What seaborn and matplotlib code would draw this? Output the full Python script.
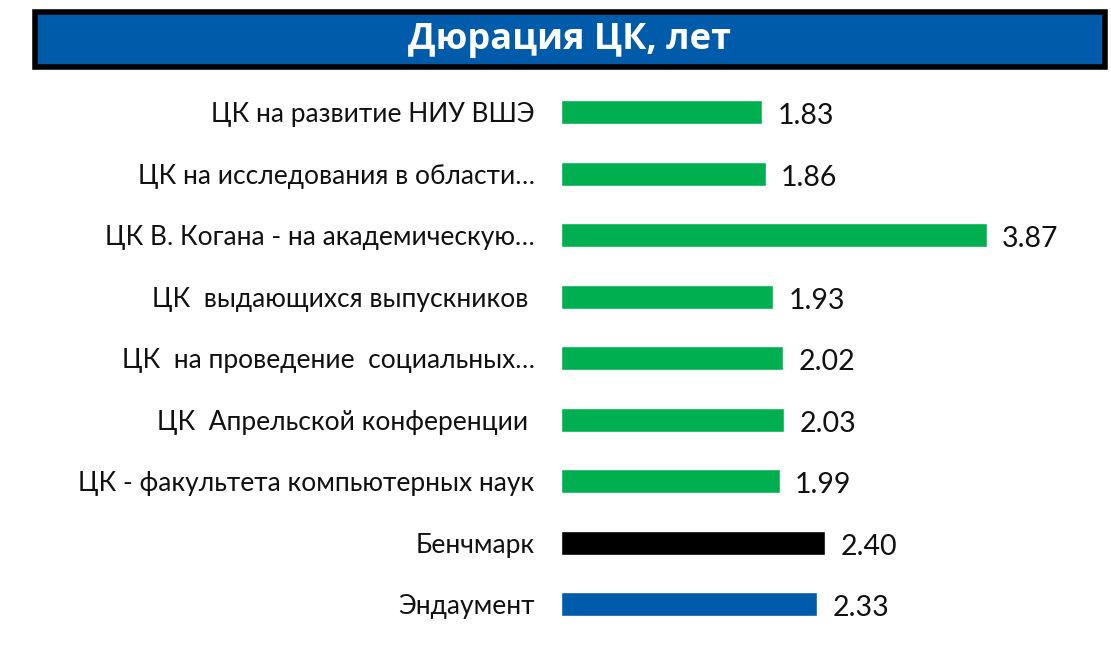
import pandas as pd
import matplotlib.pyplot as plt
import seaborn as sns
from matplotlib.patches import Rectangle

# data
labels = [
    'ЦК на развитие НИУ ВШЭ',
    'ЦК на исследования в области…',
    'ЦК В. Когана - на академическую…',
    'ЦК  выдающихся выпускников ',
    'ЦК  на проведение  социальных…',
    'ЦК  Апрельской конференции ',
    'ЦК - факультета компьютерных наук',
    'Бенчмарк',
    'Эндаумент',
]
values = [1.83, 1.86, 3.87, 1.93, 2.02, 2.03, 1.99, 2.40, 2.33]
colors = ['#00B050'] * 7 + ['#000000', '#005BAA']
title = 'Дюрация ЦК, лет'

df = pd.DataFrame({'label': labels, 'value': values})

sns.set_style('white')
plt.rcParams['font.family'] = ['Lato', 'DejaVu Sans']

fig = plt.figure(figsize=(11.11, 6.5), dpi=100)
ax = fig.add_axes([0.505, 0.023, 0.49, 0.852])

sns.barplot(data=df, y='label', x='value', hue='label', palette=colors,
            orient='h', width=0.39, saturation=1, legend=False, ax=ax)

# value labels, nudged a little below the bar centre like the original
for c in ax.containers:
    txts = ax.bar_label(c, fmt='%.2f', padding=11, fontsize=20.5, color='#111111')
    for t in txts:
        t.set_va('center')
        x0, y0 = t.xyann
        t.xyann = (x0, y0 - 3)

ax.set_xlim(0, 4.95)
ax.set_ylim(8.5, -0.5)
ax.set_xlabel('')
ax.set_ylabel('')
ax.set_xticks([])
ax.tick_params(axis='y', length=0, pad=19, labelsize=19)
for lbl in ax.get_yticklabels():
    lbl.set_color('#111111')
sns.despine(ax=ax, left=True, bottom=True)

# title banner
fig.patches.append(Rectangle((0.0315, 0.897), 0.963, 0.085, transform=fig.transFigure,
                             facecolor='#005BAA', edgecolor='black', linewidth=4))
fig.text(0.513, 0.938, title, ha='center', va='center', color='white',
         fontsize=26, fontweight='bold', family=['Open Sans', 'DejaVu Sans'])

fig.savefig('out.png', dpi=100)
